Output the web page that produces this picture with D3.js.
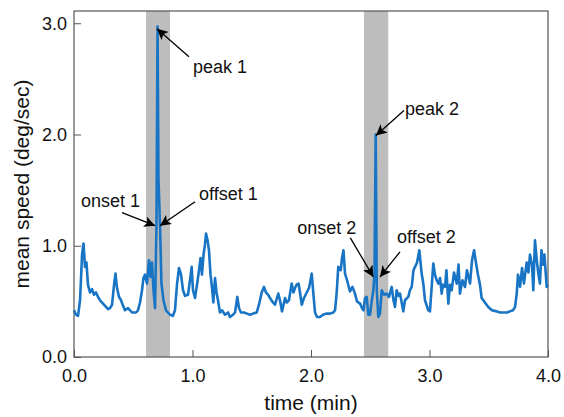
<!DOCTYPE html>
<html lang="en">
  <head>
    <meta charset="utf-8" />
    <title>Mean speed</title>
    <style>
      body { margin: 0; background: #fff; }
      text { font-family: "Liberation Sans", Arial, sans-serif; fill: #111; }
    </style>
  </head>
  <body>
    <div id="chart"></div>
    <script src="https://d3js.org/d3.v7.min.js"></script>
    <script>
      // time (min) and mean speed (deg/sec)
      var times = [
        0.000, 0.017, 0.034, 0.051, 0.068, 0.080, 0.093, 0.105, 0.118, 0.135,
        0.152, 0.169, 0.186, 0.203, 0.219, 0.236, 0.253, 0.270, 0.287, 0.304,
        0.321, 0.338, 0.350, 0.363, 0.380, 0.397, 0.414, 0.430, 0.456, 0.473,
        0.489, 0.506, 0.523, 0.540, 0.557, 0.574, 0.586, 0.599, 0.616, 0.633,
        0.646, 0.658, 0.671, 0.684, 0.696, 0.705, 0.713, 0.726, 0.738, 0.755,
        0.776, 0.793, 0.810, 0.835, 0.852, 0.869, 0.886, 0.903, 0.920, 0.937,
        0.962, 0.979, 0.993, 1.004, 1.021, 1.038, 1.055, 1.068, 1.080, 1.093,
        1.105, 1.114, 1.127, 1.139, 1.152, 1.162, 1.176, 1.190, 1.203, 1.215,
        1.232, 1.249, 1.274, 1.300, 1.316, 1.342, 1.359, 1.378, 1.392, 1.409,
        1.435, 1.460, 1.485, 1.511, 1.542, 1.561, 1.584, 1.603, 1.620, 1.637,
        1.654, 1.679, 1.696, 1.724, 1.738, 1.755, 1.781, 1.795, 1.814, 1.837,
        1.852, 1.865, 1.879, 1.895, 1.907, 1.922, 1.941, 1.964, 1.983, 1.996,
        2.006, 2.019, 2.034, 2.051, 2.076, 2.101, 2.127, 2.160, 2.188, 2.203,
        2.217, 2.230, 2.251, 2.262, 2.274, 2.287, 2.304, 2.329, 2.350, 2.371,
        2.388, 2.414, 2.430, 2.443, 2.456, 2.470, 2.484, 2.498, 2.512, 2.526,
        2.536, 2.546, 2.555, 2.568, 2.582, 2.597, 2.616, 2.639, 2.658, 2.681,
        2.696, 2.709, 2.723, 2.738, 2.751, 2.779, 2.793, 2.821, 2.835, 2.850,
        2.865, 2.878, 2.895, 2.914, 2.934, 2.949, 2.962, 2.990, 3.004, 3.032,
        3.046, 3.061, 3.075, 3.089, 3.103, 3.114, 3.131, 3.143, 3.159, 3.173,
        3.187, 3.207, 3.230, 3.245, 3.257, 3.278, 3.300, 3.316, 3.342, 3.359,
        3.376, 3.392, 3.409, 3.426, 3.440, 3.468, 3.496, 3.527, 3.567, 3.595,
        3.623, 3.654, 3.679, 3.705, 3.722, 3.736, 3.747, 3.764, 3.781, 3.797,
        3.820, 3.835, 3.848, 3.865, 3.876, 3.890, 3.907, 3.920, 3.932, 3.945,
        3.958, 3.970, 3.989, 4.000
      ];
      var speeds = [
        0.42, 0.38, 0.37, 0.51, 0.92, 1.02, 0.81, 0.85, 0.65, 0.58,
        0.61, 0.56, 0.58, 0.54, 0.51, 0.49, 0.47, 0.45, 0.43, 0.44,
        0.47, 0.65, 0.75, 0.62, 0.54, 0.51, 0.46, 0.42, 0.44, 0.42,
        0.40, 0.40, 0.40, 0.42, 0.49, 0.60, 0.71, 0.74, 0.66, 0.87,
        0.72, 0.85, 0.60, 0.44, 1.18, 2.97, 1.59, 1.18, 0.66, 0.51,
        0.42, 0.40, 0.38, 0.37, 0.42, 0.65, 0.80, 0.74, 0.60, 0.55,
        0.56, 0.69, 0.81, 0.60, 0.53, 0.65, 0.78, 0.89, 0.74, 0.92,
        1.01, 1.11, 1.05, 0.96, 0.74, 0.65, 0.49, 0.71, 0.58, 0.51,
        0.40, 0.42, 0.38, 0.40, 0.36, 0.38, 0.40, 0.54, 0.44, 0.40,
        0.40, 0.39, 0.38, 0.39, 0.40, 0.47, 0.58, 0.63, 0.58, 0.56,
        0.53, 0.49, 0.47, 0.57, 0.51, 0.41, 0.53, 0.49, 0.51, 0.66,
        0.58, 0.62, 0.65, 0.66, 0.58, 0.47, 0.53, 0.58, 0.62, 0.69,
        0.75, 0.58, 0.40, 0.36, 0.36, 0.38, 0.39, 0.39, 0.40, 0.42,
        0.58, 0.81, 0.78, 0.89, 0.96, 0.75, 0.69, 0.59, 0.63, 0.57,
        0.50, 0.48, 0.44, 0.42, 0.53, 0.54, 0.38, 0.38, 0.50, 0.60,
        0.75, 2.00, 0.60, 0.36, 0.39, 0.60, 0.56, 0.57, 0.54, 0.63,
        0.51, 0.45, 0.60, 0.55, 0.57, 0.41, 0.51, 0.54, 0.60, 0.63,
        0.78, 0.81, 0.85, 0.96, 0.75, 0.65, 0.51, 0.42, 0.41, 0.84,
        0.74, 0.69, 0.66, 0.71, 0.57, 0.65, 0.63, 0.78, 0.48, 0.65,
        0.60, 0.76, 0.66, 0.83, 0.57, 0.69, 0.63, 0.78, 0.66, 0.87,
        0.96, 0.85, 0.74, 0.65, 0.53, 0.49, 0.45, 0.42, 0.41, 0.40,
        0.40, 0.40, 0.41, 0.42, 0.45, 0.57, 0.74, 0.63, 0.80, 0.66,
        0.85, 0.76, 0.92, 0.83, 0.60, 1.05, 0.85, 0.74, 0.66, 0.96,
        0.83, 0.92, 0.63, 0.65
      ];

      // shaded event windows (min)
      var bands = [
        [0.608, 0.81],
        [2.447, 2.652]
      ];

      var xTicks = [0, 1, 2, 3, 4];
      var yTicks = [0, 1, 2, 3];

      // label, arrow tip (t, v)
      var noteLabels = ["peak 1", "onset 1", "offset 1", "peak 2", "onset 2", "offset 2"];
      var noteTimes = [0.70, 0.684, 0.726, 2.548, 2.526, 2.582];
      var noteSpeeds = [2.95, 1.18, 1.18, 1.99, 0.72, 0.72];

      // pixel offsets of arrow tail and text from the tip
      var noteLayout = [
        { tail: [32, 28], text: [36, 44], anchor: "start" },
        { tail: [-33, -13], text: [-15, -19], anchor: "end" },
        { tail: [35, -24], text: [39, -26], anchor: "start" },
        { tail: [28, -25], text: [29, -21], anchor: "start" },
        { tail: [-23, -39], text: [-17, -43], anchor: "end" },
        { tail: [20, -25], text: [17, -34], anchor: "start" }
      ];

      var margin = { top: 11, right: 16, bottom: 60, left: 74 };
      var width = 564 - margin.left - margin.right,
        height = 417 - margin.top - margin.bottom;

      var x = d3.scaleLinear().domain([0, 4]).range([0, width]);
      var y = d3.scaleLinear().domain([0, 3.11]).range([height, 0]);

      var svg = d3
        .select("#chart")
        .append("svg")
        .attr("width", 564)
        .attr("height", 417);

      svg
        .append("defs")
        .append("marker")
        .attr("id", "head")
        .attr("viewBox", "0 0 10 10")
        .attr("refX", 10)
        .attr("refY", 5)
        .attr("markerWidth", 11)
        .attr("markerHeight", 11)
        .attr("markerUnits", "userSpaceOnUse")
        .attr("orient", "auto")
        .append("path")
        .attr("d", "M0,0 L10,5 L0,10 L2.5,5 Z")
        .attr("fill", "#000");

      var g = svg
        .append("g")
        .attr("transform", "translate(" + margin.left + "," + margin.top + ")");

      // gray bands
      g.selectAll(".band")
        .data(bands)
        .enter()
        .append("rect")
        .attr("class", "band")
        .attr("x", function (d) { return x(d[0]); })
        .attr("width", function (d) { return x(d[1]) - x(d[0]); })
        .attr("y", 0)
        .attr("height", height)
        .attr("fill", "#bdbdbd");

      // axes (ticks point inward)
      var xAxis = d3
        .axisBottom(x)
        .tickValues(xTicks)
        .tickSizeInner(-7)
        .tickSizeOuter(0)
        .tickPadding(12)
        .tickFormat(d3.format(".1f"));
      var yAxis = d3
        .axisLeft(y)
        .tickValues(yTicks)
        .tickSizeInner(-7)
        .tickSizeOuter(0)
        .tickPadding(7)
        .tickFormat(d3.format(".1f"));

      var gx = g.append("g").attr("transform", "translate(0," + height + ")").call(xAxis);
      var gy = g.append("g").call(yAxis);
      [gx, gy].forEach(function (a) {
        a.select(".domain").remove();
        a.selectAll("line").attr("stroke", "#555");
        a.selectAll("text")
          .style("font-family", "'Liberation Sans', Arial, sans-serif")
          .style("font-size", "18px")
          .attr("fill", "#111");
      });
      gx.selectAll("text").attr("dy", "0.71em");

      // frame
      g.append("rect")
        .attr("x", 0)
        .attr("y", 0)
        .attr("width", width)
        .attr("height", height)
        .attr("fill", "none")
        .attr("stroke", "#555")
        .attr("stroke-width", 1.2);

      // speed trace
      var line = d3
        .line()
        .x(function (d, i) { return x(times[i]); })
        .y(function (d) { return y(d); });

      g.append("path")
        .datum(speeds)
        .attr("d", line)
        .attr("fill", "none")
        .attr("stroke", "#1874c4")
        .attr("stroke-width", 2.6)
        .attr("stroke-linejoin", "round");

      // annotations
      var notes = g
        .selectAll(".note")
        .data(noteLabels)
        .enter()
        .append("g")
        .attr("class", "note")
        .attr("transform", function (d, i) {
          return "translate(" + x(noteTimes[i]) + "," + y(noteSpeeds[i]) + ")";
        });

      notes
        .append("line")
        .attr("x1", function (d, i) { return noteLayout[i].tail[0]; })
        .attr("y1", function (d, i) { return noteLayout[i].tail[1]; })
        .attr("x2", 0)
        .attr("y2", 0)
        .attr("stroke", "#000")
        .attr("stroke-width", 1.3)
        .attr("marker-end", "url(#head)");

      notes
        .append("text")
        .attr("x", function (d, i) { return noteLayout[i].text[0]; })
        .attr("y", function (d, i) { return noteLayout[i].text[1]; })
        .attr("text-anchor", function (d, i) { return noteLayout[i].anchor; })
        .style("font-size", "18px")
        .text(function (d) { return d; });

      // axis titles
      svg
        .append("text")
        .attr("x", margin.left + width / 2)
        .attr("y", 410)
        .attr("text-anchor", "middle")
        .style("font-size", "21px")
        .text("time (min)");

      svg
        .append("text")
        .attr("transform", "translate(29," + (margin.top + height / 2) + ") rotate(-90)")
        .attr("text-anchor", "middle")
        .style("font-size", "21px")
        .text("mean speed (deg/sec)");
    </script>
  </body>
</html>
